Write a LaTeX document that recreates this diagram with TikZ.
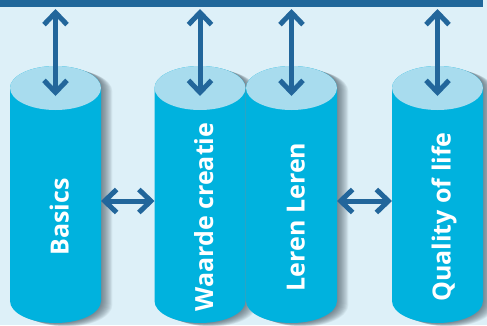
\documentclass[tikz,border=0pt]{standalone}
\usepackage{fontspec}
\setmainfont{Open Sans}
\usetikzlibrary{arrows.meta}
\definecolor{bg}{HTML}{DDF0F8}
\definecolor{barc}{HTML}{20679A}
\definecolor{arr}{HTML}{22669B}
\definecolor{bodyc}{HTML}{00B2DE}
\definecolor{topc}{HTML}{A8DCEE}
\definecolor{shad}{HTML}{3A4A55}
\begin{document}
\begin{tikzpicture}[x=1pt,y=1pt,
  link/.style={arr, line width=5pt, {Straight Barb[length=12pt,width=23pt]}-{Straight Barb[length=12pt,width=23pt]}},
  coltext/.style={text=white, font=\bfseries\fontsize{25}{25}\selectfont, rotate=90, anchor=base, inner sep=0pt},
  shadowpiece/.style={fill=shad, opacity=0.07},
  bodypiece/.style={fill=bodyc},
  toppiece/.style={fill=topc}]
\fill[bg] (0,0) rectangle (487,325);
\useasboundingbox (0,0) rectangle (487,325);
\fill[barc] (0,317.7) rectangle (483,325);
\foreach \n/\cx/\t in {a/55.5/Basics, b/200/Waarde creatie, c/291.5/Leren Leren, d/437.5/Quality of life}{
  \foreach \k in {1,...,12}{
    \begin{scope}[shift={(\k*0.95,-\k*0.3)}]
      \path[shadowpiece] (\cx-45.5,237) arc[start angle=180,end angle=0,x radius=45.5,y radius=22]
        -- (\cx+45.5,24) arc[start angle=0,end angle=-180,x radius=45.5,y radius=22] -- cycle;
    \end{scope}
  }
  \path[bodypiece] (\cx-45.5,237) arc[start angle=180,end angle=0,x radius=45.5,y radius=22]
    -- (\cx+45.5,24) arc[start angle=0,end angle=-180,x radius=45.5,y radius=22] -- cycle;
  \path[toppiece] (\cx,237) ellipse[x radius=45.5,y radius=22];
  \node[coltext] (\n-text) at (\cx+13,108) {\t};
  \coordinate (\n-bar) at (\cx,316);
  \coordinate (\n-top) at (\cx,229);
  \coordinate (\n-l) at (\cx-45.5,124);
  \coordinate (\n-r) at (\cx+45.5,124);
}
\foreach \n in {a,b,c,d}{
  \draw[link] (\n-bar) -- (\n-top);
}
\draw[link] (a-r) -- (b-l);
\draw[link] (c-r) -- (d-l);
\end{tikzpicture}
\end{document}
